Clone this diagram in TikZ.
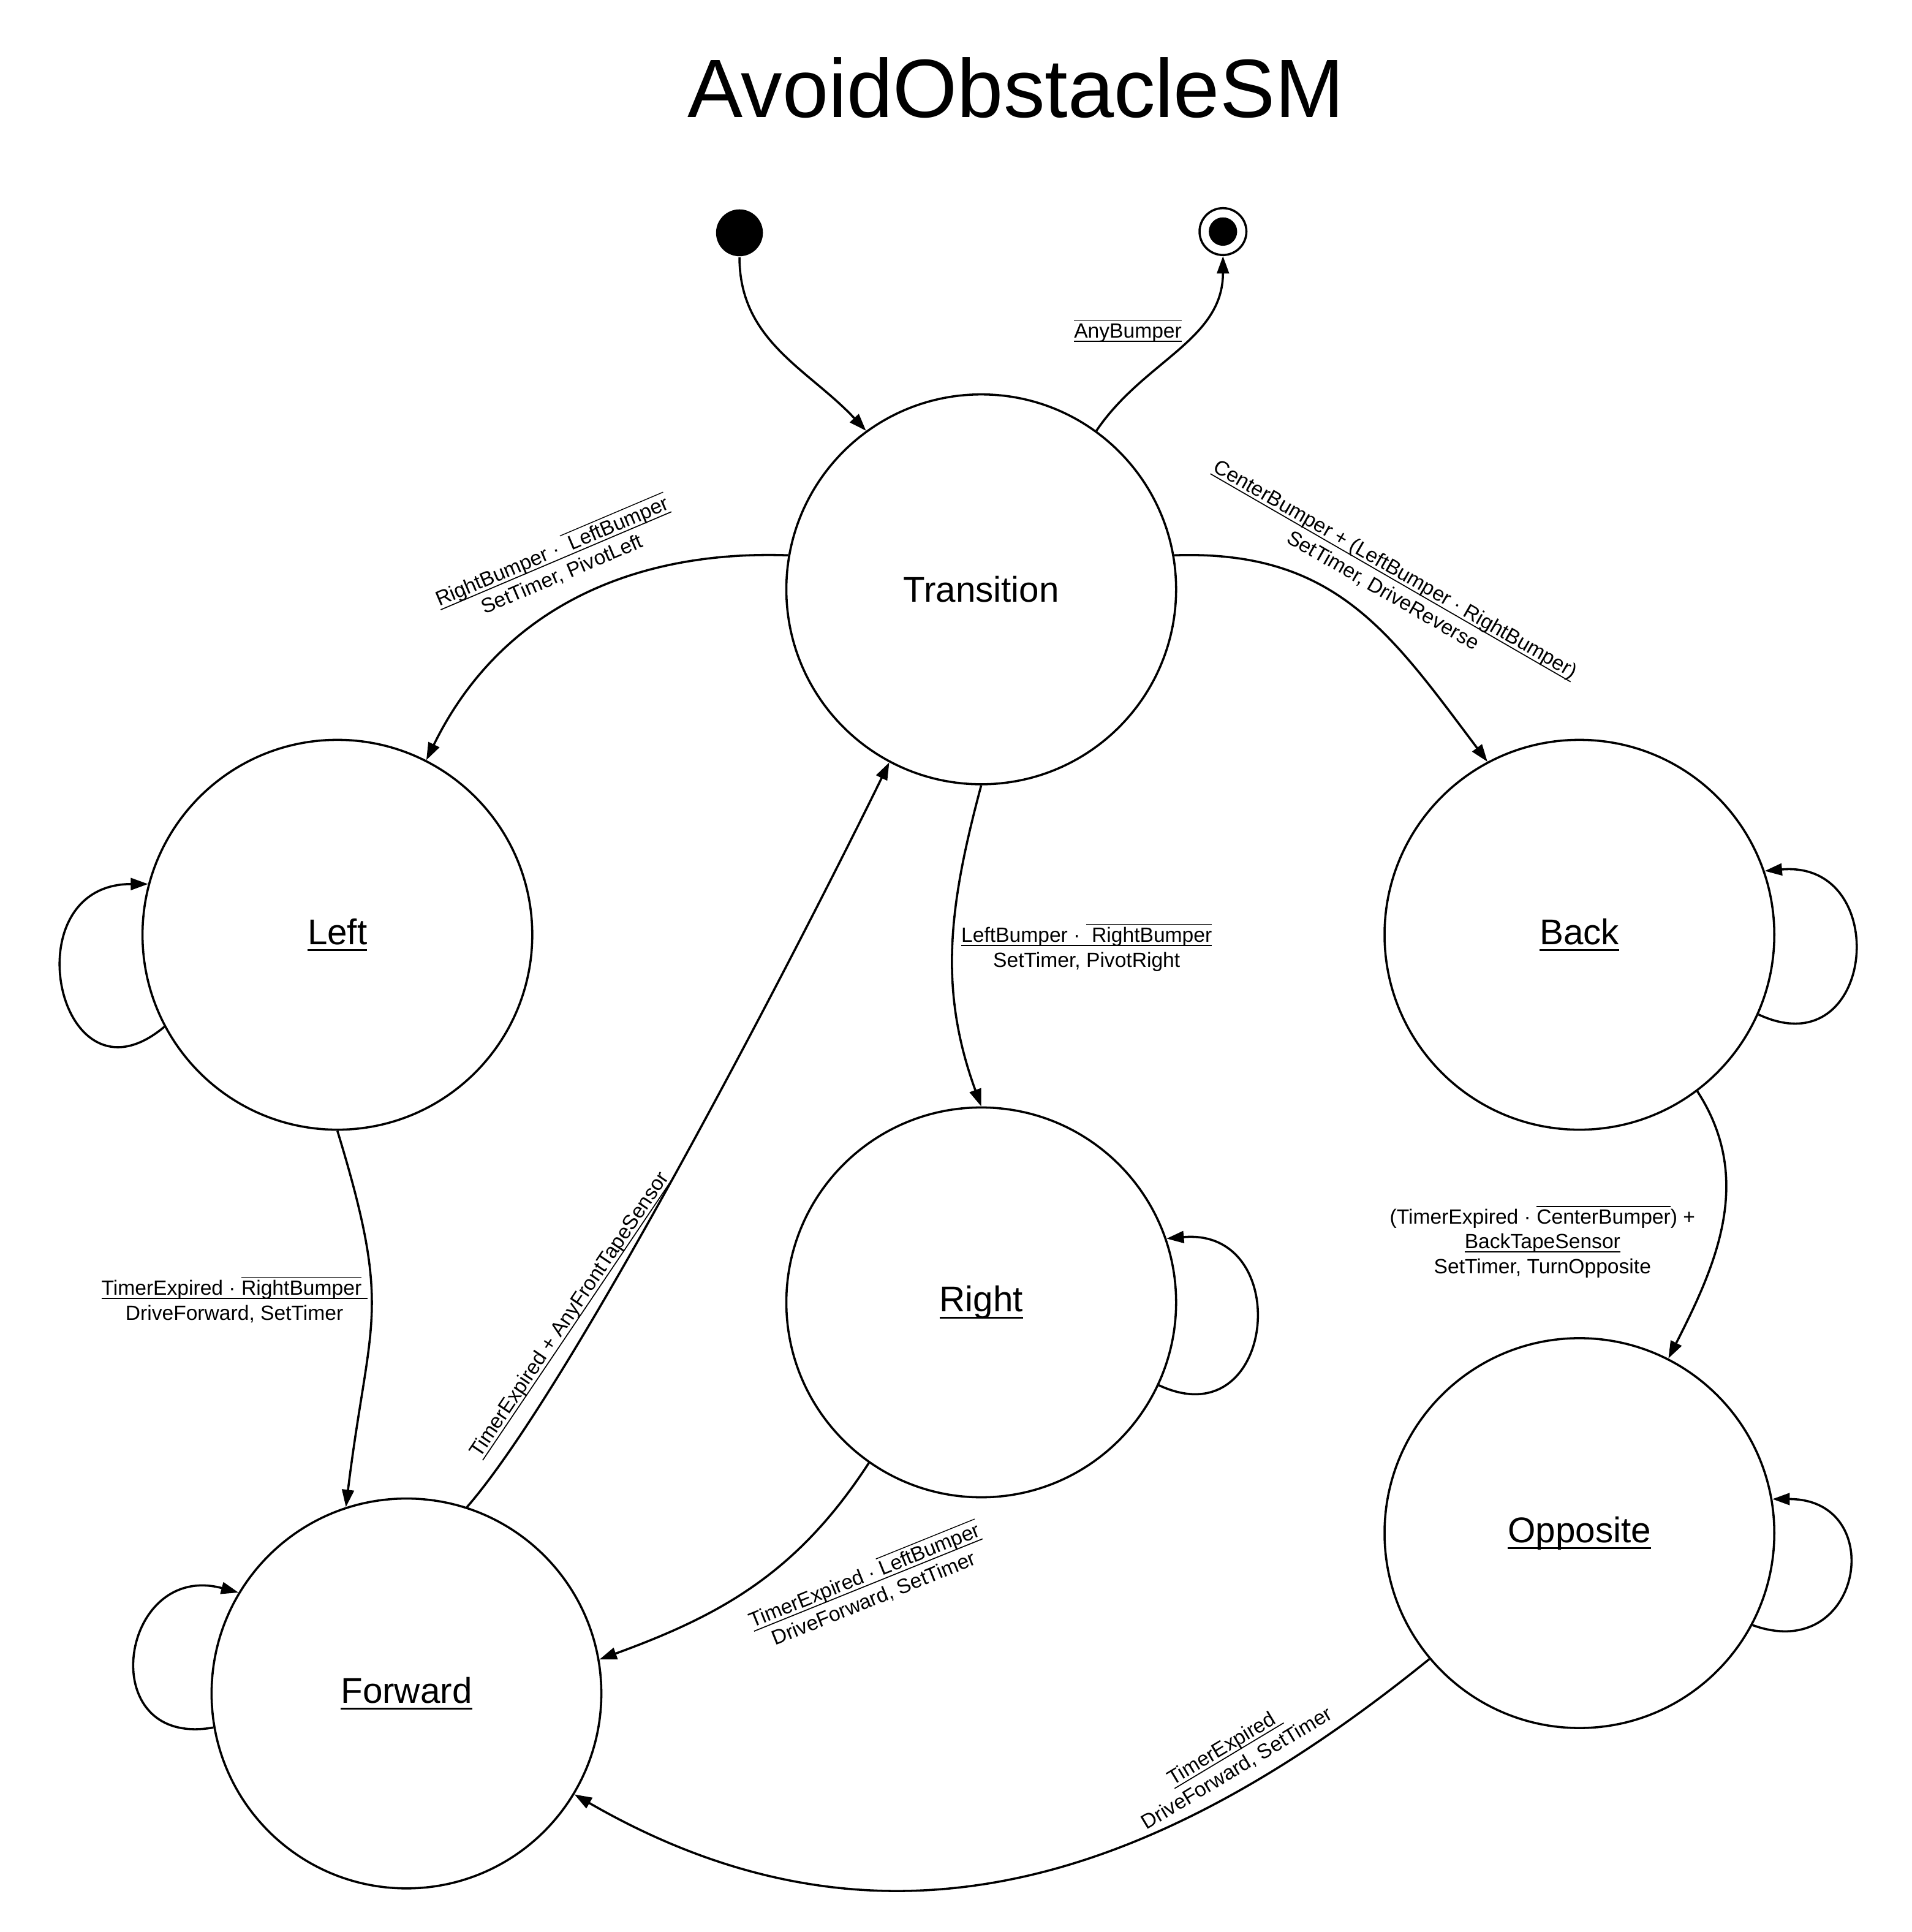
\documentclass[tikz,border=0pt]{standalone}
\usepackage{fontspec}
\setmainfont{Liberation Sans}
\usetikzlibrary{arrows.meta, automata, positioning}
\tikzstyle{machine}=[>={Triangle[length=8pt,width=5.5pt]}, line width=1pt, x=0.01cm, y=0.01cm, on grid]
\tikzstyle{bigstate}=[state, line width=1pt, minimum size=6.32cm, inner sep=0pt, font=\fontsize{16.5}{19}\selectfont]
\tikzstyle{guard}=[font=\fontsize{9.5}{11.4}\selectfont, align=center]
\newcommand{\negbar}[1]{$\overline{\mbox{#1}}$}
\newcommand{\ulined}[1]{\setbox0\hbox{#1}\rlap{\rule[-0.19em]{\wd0}{0.05em}}\box0}

\begin{document}
\begin{tikzpicture}[machine]
  \useasboundingbox (0,0) rectangle (3102,-3134);
  \node[font=\fontsize{38.2}{46}\selectfont] (title) at (1648,-142) {AvoidObstacleSM};

  \node[bigstate] (tr) at (1592,-956) {Transition};
  \node[bigstate] (left) [below left=5.6cm and 10.44cm of tr] {\ulined{Left}};
  \node[bigstate] (back) [below right=5.6cm and 9.7cm of tr] {\ulined{Back}};
  \node[bigstate] (right) [below=11.56cm of tr] {\ulined{Right}};
  \node[bigstate] (opp) [below=9.7cm of back] {\ulined{Opposite}};
  \node[bigstate] (fwd) [below right=12.3cm and 1.12cm of left] {\ulined{Forward}};
  \node[circle, fill, minimum size=0.76cm, inner sep=0pt] (start) [above left=5.78cm and 3.92cm of tr] {};
  \node[circle, draw, minimum size=0.76cm, inner sep=0pt] (stop) [above right=5.8cm and 3.92cm of tr] {};
  \node[circle, fill, minimum size=0.46cm, inner sep=0pt] (stopdot) at (stop) {};

  \path[->] (start) edge[out=-90, in=133] (tr.126);
  \path[->] (tr.54) edge[out=56, in=-90] node[guard, pos=.62, anchor=east, inner xsep=5.5pt] (g-stop) {\ulined{\negbar{AnyBumper}}} (stop);
  \path[->] (tr.170) edge[out=178, in=64] node[guard, pos=.5, anchor=south, rotate=23, inner ysep=8.5pt] (g-left)
    {\ulined{RightBumper ·\ \negbar{\ LeftBumper}}\\SetTimer, PivotLeft} (left.63);
  \path[->] (tr.10) edge[out=2, in=127, looseness=1.1] node[guard, pos=.545, anchor=south, rotate=-30, inner ysep=10pt] (g-back)
    {\ulined{CenterBumper + (LeftBumper · RightBumper)}\\SetTimer, DriveReverse} (back.118);
  \path[->] (tr.south) edge[out=-105, in=110] node[guard, pos=.5, anchor=west] (g-right)
    {\ulined{LeftBumper ·\ \negbar{\ RightBumper}}\\SetTimer, PivotRight} (right.north);
  \path[->] (left.south) edge[out=-73, in=83, looseness=1.3] node[guard, pos=.44, anchor=east, inner xsep=1.5pt] (g-fwd)
    {\ulined{TimerExpired · \negbar{RightBumper}\ }\\DriveForward, SetTimer} (fwd.108);
  \path[->] (fwd.72) edge[out=49, in=-116, looseness=.5] node[guard, pos=.29, anchor=south, rotate=56, inner ysep=5pt] (g-tr)
    {\ulined{TimerExpired + AnyFrontTapeSensor}} (tr.242);
  \path[->] (right.235) edge[out=-123, in=20] node[guard, pos=.58, anchor=north west, rotate=22, inner ysep=6.5pt] (g-rf)
    {\ulined{TimerExpired · \negbar{LeftBumper}}\\DriveForward, SetTimer} (fwd.10);
  \path[->] (back.-53) edge[out=-57, in=63] node[guard, pos=.57, anchor=east, inner xsep=10pt] (g-opp)
    {(TimerExpired · \negbar{CenterBumper}) +\\\ulined{BackTapeSensor}\\SetTimer, TurnOpposite} (opp.63);
  \path[->] (opp.220) edge[out=-141, in=-30, looseness=1.05] node[guard, pos=.22, anchor=south, rotate=31, inner ysep=4.7pt] (g-of)
    {\ulined{TimerExpired\ }\\DriveForward, SetTimer} (fwd.-31);

  % self loops
  \path[->] (left.208) edge[out=220, in=180, distance=2.25cm] (left.165);
  \path[->] (back.-24) edge[out=-25, in=5, distance=2.1cm] (back.19);
  \path[->] (right.-25) edge[out=-25, in=5, distance=2.1cm] (right.19);
  \path[->] (opp.-28) edge[out=-20, in=0, distance=1.9cm] (opp.10);
  \path[->] (fwd.190) edge[out=190, in=165, distance=2cm] (fwd.149);
\end{tikzpicture}
\end{document}
